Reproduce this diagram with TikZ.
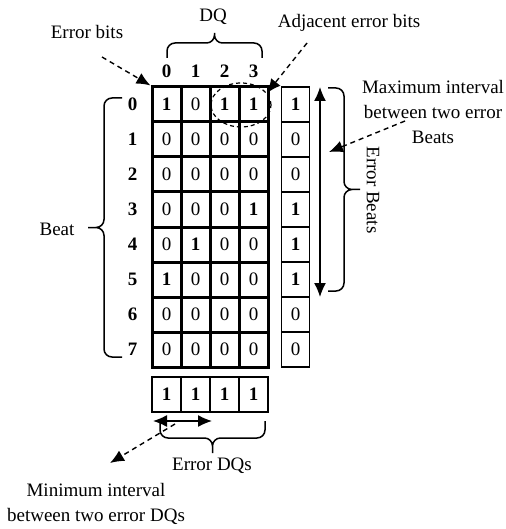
\documentclass[tikz,border=0pt]{standalone}
\usepackage{fontspec}
\setmainfont{Liberation Serif}
\usepackage{tikz}
\usetikzlibrary{shapes,arrows.meta}
\tikzstyle{cell} = [rectangle, draw, line width=3pt, minimum width=29pt,
    minimum height=35pt, inner sep=0pt]
\tikzstyle{side} = [rectangle, draw, line width=1.4pt, minimum width=28pt,
    minimum height=35pt, inner sep=0pt]
\tikzstyle{txt} = [inner sep=0pt, align=center]
\tikzstyle{hint} = [draw, line width=1.4pt, dash pattern=on 5pt off 4pt,
    -{Latex[length=14pt,width=12pt]}]
\tikzstyle{span} = [draw, line width=1.3pt,
    {Latex[length=14pt,width=12pt]}-{Latex[length=14pt,width=12pt]}]
\tikzstyle{curly} = [draw, line width=1.5pt, rounded corners=8pt]

\begin{document}
\begin{tikzpicture}[x=1pt, y=-1pt, font=\fontsize{19pt}{25pt}\selectfont]
  \useasboundingbox (0,0) rectangle (505,529);
  % Place nodes
  \foreach \row [count=\r from 0] in {{1,0,1,1},{0,0,0,0},{0,0,0,0},{0,0,0,1},
      {0,1,0,0},{1,0,0,0},{0,0,0,0},{0,0,0,0}} {
    \foreach \v [count=\c from 0] in \row
      \node [cell] (m-\r-\c) at (166.5+29*\c, 104.5+35*\r)
        {\ifnum\v=1 \textbf{1}\else 0\fi};
    \node [txt, left of=m-\r-0, node distance=34pt] (row-\r) {\textbf{\r}};
  }
  \foreach \v [count=\r from 0] in {1,0,0,1,1,1,0,0}
    \node [side] (e-\r) at (295.5, 104.5+35*\r) {\ifnum\v=1 \textbf{1}\else 0\fi};
  \foreach \c in {0,...,3} {
    \node [txt, above of=m-0-\c, node distance=33pt] (col-\c) {\textbf{\c}};
    \node [side, minimum width=29pt, line width=1.7pt] (q-\c)
      at (166.5+29*\c, 394.5) {\textbf{1}};
  }
  \node [draw, ellipse, line width=1.2pt, dash pattern=on 4pt off 3pt,
    minimum width=60pt, minimum height=44pt] (pair) at (241,105) {};

  \node [txt] (dq) at (213,17) {DQ};
  \node [txt] (errbits) at (87,32) {Error bits};
  \node [txt] (adj) at (349,23) {Adjacent error bits};
  \node [txt] (maxint) at (433,112) {Maximum interval\\between two error\\Beats};
  \node [txt, rotate=-90] (errbeats) at (373,190) {Error Beats};
  \node [txt] (beat) at (57,229) {Beat};
  \node [txt] (errdq) at (212,466) {Error DQs};
  \node [txt] (minint) at (96,504) {Minimum interval\\between two error DQs};

  \coordinate (eb-from) at (102,57);
  \coordinate (adj-from) at (307,43);
  \coordinate (adj-to) at (267,93);
  \coordinate (mx-from) at (405,121);
  \coordinate (mx-to) at (329,152);
  \coordinate (mn-from) at (175,424);
  \coordinate (mn-to) at (110,463);
  \coordinate (beat-top) at (320,87);
  \coordinate (beat-bot) at (320,297);
  \coordinate (dq-left) at (153,421);
  \coordinate (dq-right) at (212,421);

  % Draw edges
  \path [hint] (eb-from) -- (m-0-0.north west);
  \path [hint] (adj-from) -- (adj-to);
  \path [hint] (mx-from) -- (mx-to);
  \path [hint] (mn-from) -- (mn-to);
  \path [span] (beat-top) -- (beat-bot);
  \path [span] (dq-left) -- (dq-right);

  % Braces
  \path [curly] (167,58) |- (214.5,43) -- (214.5,33)
                (262,58) |- (214.5,43) -- (214.5,33);
  \path [curly] (122,98) -| (104,227.5) -- (88,227.5)
                (122,357) -| (104,227.5) -- (88,227.5);
  \path [curly] (328,88) -| (344,189.5) -- (360,189.5)
                (328,291) -| (344,189.5) -- (360,189.5);
  \path [curly] (160,421) |- (212.5,438) -- (212.5,453)
                (265,421) |- (212.5,438) -- (212.5,453);
\end{tikzpicture}
\end{document}
